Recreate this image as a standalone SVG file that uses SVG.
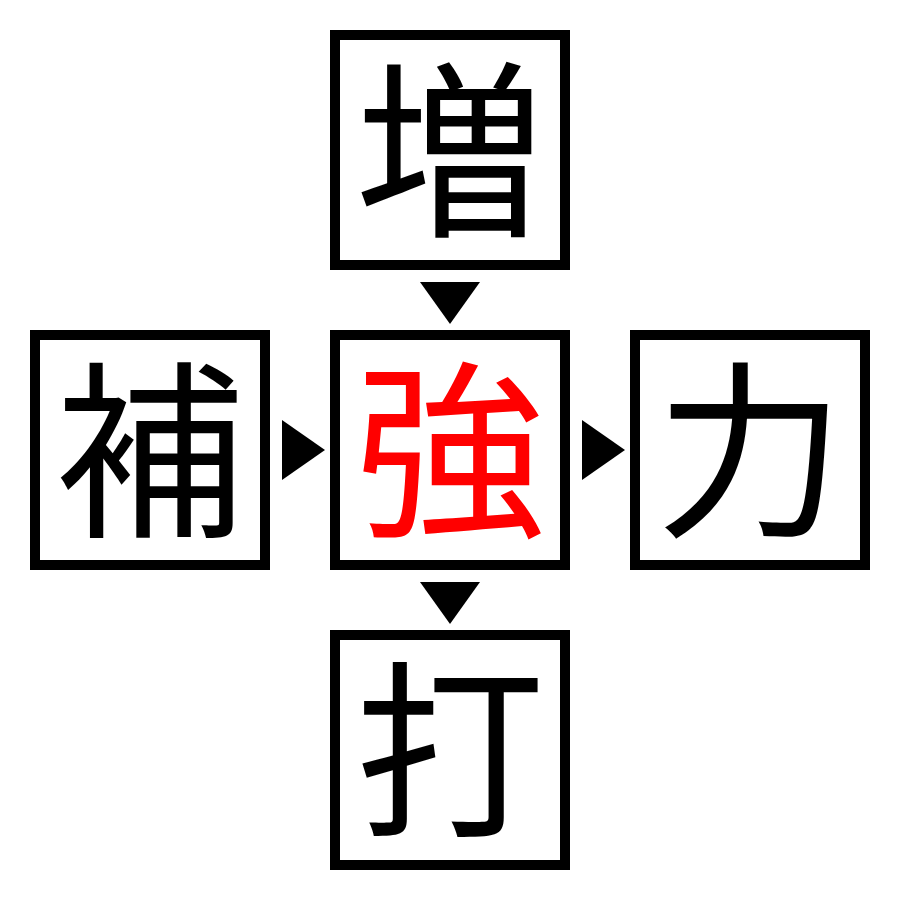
<svg xmlns="http://www.w3.org/2000/svg" width="900" height="900" viewBox="0 0 900 900">
<style>
.box{fill:#fff;stroke:#000;stroke-width:10}
.ch{font-family:"Noto Sans CJK JP","Noto Sans CJK SC",serif;font-size:190px;text-anchor:middle;fill:#000}
.red{fill:#ff0000}
.arr{fill:#000}
</style>
<rect width="900" height="900" fill="#fff"/>
<g id="node-zou"><rect class="box" x="335" y="35" width="230" height="230"/><text class="ch" x="450" y="222">増</text></g>
<g id="node-ho"><rect class="box" x="35" y="335" width="230" height="230"/><text class="ch" x="150" y="522">補</text></g>
<g id="node-kyou"><rect class="box" x="335" y="335" width="230" height="230"/><text class="ch red" x="450" y="522">強</text></g>
<g id="node-ryoku"><rect class="box" x="635" y="335" width="230" height="230"/><text class="ch" x="750" y="522">力</text></g>
<g id="node-da"><rect class="box" x="335" y="635" width="230" height="230"/><text class="ch" x="450" y="822">打</text></g>
<g id="connectors">
<polygon class="arr" points="420,282 480,282 450,324"/>
<polygon class="arr" points="282,420 282,480 325,450"/>
<polygon class="arr" points="582,420 582,480 625,450"/>
<polygon class="arr" points="420,582 480,582 450,624"/>
</g>
</svg>
